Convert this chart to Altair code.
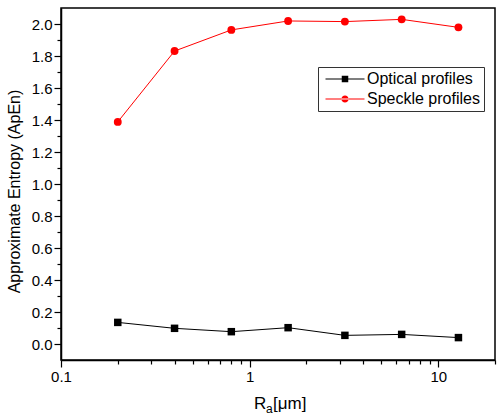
import altair as alt
import pandas as pd

# Surface roughness Ra [um] and approximate entropy of each profile type
ra_um = [0.2, 0.4, 0.8, 1.6, 3.2, 6.4, 12.8]
optical_apen = [0.135, 0.098, 0.077, 0.102, 0.054, 0.060, 0.040]
speckle_apen = [1.388, 1.831, 1.963, 2.019, 2.015, 2.029, 1.979]

series_names = ["Optical profiles", "Speckle profiles"]
series_colors = ["#000000", "#ff0000"]
series_shapes = ["square", "circle"]
series_sizes = [56, 62]

x_tick_values = [0.1, 0.2, 0.3, 0.4, 0.5, 0.6, 0.7, 0.8, 0.9,
                 1, 2, 3, 4, 5, 6, 7, 8, 9, 10, 20]
y_tick_values = [round(0.1 * i, 1) for i in range(0, 21)]

FONT = "Liberation Sans"

rows = []
for name, values in zip(series_names, [optical_apen, speckle_apen]):
    for r, v in zip(ra_um, values):
        rows.append({"ra": r, "apen": v, "series": name})
df = pd.DataFrame(rows)

# legend glyphs: a short line with the marker drawn on it
bar = "M-3.9,-0.1H3.9V0.1H-3.9Z"
glyph_square = bar + "M-0.65,-0.65H0.65V0.65H-0.65Z"
glyph_circle = bar + "M-0.72,0A0.72,0.72,0,1,0,0.72,0A0.72,0.72,0,1,0,-0.72,0Z"

x_major = "abs(log(datum.value)/LN10 - round(log(datum.value)/LN10)) < 1e-6"
y_major = "abs(datum.value*5 - round(datum.value*5)) < 1e-6"

x_enc = alt.X(
    "ra:Q",
    scale=alt.Scale(type="log", domain=[0.1, 20], nice=False),
    axis=alt.Axis(
        values=x_tick_values,
        labelExpr=f"{x_major} ? format(datum.value, '~g') : ''",
        tickSize={"condition": {"test": x_major, "value": 7}, "value": 4},
        title=None,
        grid=False,
        labelFlush=False,
        labelOverlap=False,
        labelPadding=2,
    ),
)
y_enc = alt.Y(
    "apen:Q",
    scale=alt.Scale(domain=[-0.1, 2.1], nice=False, zero=False),
    axis=alt.Axis(
        values=y_tick_values,
        labelExpr=f"{y_major} ? format(datum.value, '.1f') : ''",
        tickSize={"condition": {"test": y_major, "value": 7}, "value": 4},
        title="Approximate Entropy (ApEn)",
        titleX=-42,
        titleY=183,
        titleAngle=270,
        titleAlign="center",
        titleBaseline="alphabetic",
        grid=False,
        labelOverlap=False,
        labelPadding=2,
    ),
)

base = alt.Chart(df)

layers = []
for name, col, shp, sz in zip(series_names, series_colors, series_shapes, series_sizes):
    sub = base.transform_filter(alt.datum.series == name)
    layers.append(sub.mark_line(strokeWidth=1, color=col).encode(x=x_enc, y=y_enc))
    layers.append(sub.mark_point(shape=shp, filled=True, size=sz, color=col,
                                 opacity=1).encode(x=x_enc, y=y_enc))

legend_spec = alt.Legend(
    title=None,
    orient="none",
    legendX=257,
    legendY=59,
    padding=4,
    strokeColor="#333333",
    fillColor="white",
    labelFont=FONT,
    labelFontSize=16,
    labelColor="black",
    symbolSize=100,
    symbolOpacity=1,
    symbolStrokeWidth=0,
    symbolOffset=15,
    labelOffset=14,
    rowPadding=4,
    labelExpr="datum.label + '\u00a0\u00a0'",
)

# invisible marks that only carry the legend (fill + shape merge into one)
legend_layer = base.mark_point(filled=True, opacity=0).encode(
    x=x_enc, y=y_enc,
    fill=alt.Fill("series:N",
                  scale=alt.Scale(domain=series_names, range=series_colors),
                  legend=legend_spec),
    shape=alt.Shape("series:N",
                    scale=alt.Scale(domain=series_names,
                                    range=[glyph_square, glyph_circle]),
                    legend=legend_spec),
)
layers.append(legend_layer)

# x-axis title R_a[um] with a subscript
def title_piece(text, x, y, size):
    return alt.Chart(pd.DataFrame({"t": [text]})).mark_text(
        font=FONT, fontSize=size, align="left", baseline="alphabetic",
        color="black",
    ).encode(text="t:N", x=alt.value(x), y=alt.value(y))

layers += [title_piece("R", 193, 401, 17),
           title_piece("a", 205, 405, 12),
           title_piece("[\u03bcm]", 212, 401, 17)]

chart = alt.layer(*layers).properties(
    width=434,
    height=352,
    autosize=alt.AutoSizeParams(type="none"),
    padding={"left": 61, "top": 8, "right": 6, "bottom": 56},
    background="white",
).configure_view(
    stroke="black", strokeWidth=1.5,
).configure_axis(
    labelFont=FONT, labelFontSize=15, labelColor="black",
    titleFont=FONT, titleFontSize=16, titleFontWeight="normal",
    titleColor="black",
    domainColor="black", domainWidth=1.5,
    tickColor="black", tickWidth=1.2,
)

chart.save("out.html", embed_options={"renderer": "svg", "actions": False})
